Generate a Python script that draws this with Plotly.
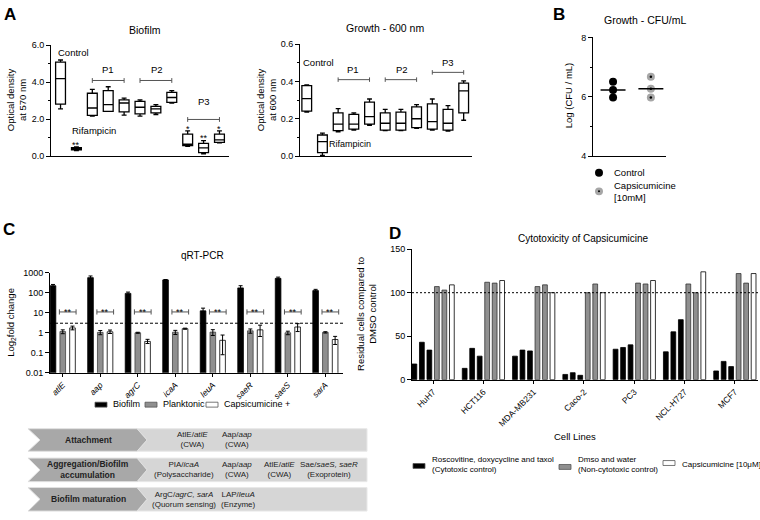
import plotly.graph_objects as go
import numpy as np

W, H = 760, 520
FONT = "Liberation Sans, Arial, sans-serif"


def px(x):
    return x / W


def py(y):
    return 1 - y / H


# ---------------- DATA ----------------
# Panel A - box plot statistics
a_groups = ["Control", "Rifampicin", "P1-a", "P1-b", "P1-c", "P2-a", "P2-b", "P2-c", "P3-a", "P3-b", "P3-c"]

bio_upper = [5.20, 0.50, 3.61, 3.75, 3.13, 3.04, 2.78, 3.54, 1.36, 0.83, 1.36]
bio_q3 = [5.08, 0.46, 3.40, 3.54, 3.04, 2.96, 2.69, 3.45, 1.19, 0.69, 1.19]
bio_median = [4.19, 0.40, 2.60, 2.78, 2.87, 2.64, 2.55, 3.17, 0.65, 0.44, 0.87]
bio_q1 = [2.81, 0.34, 2.20, 2.42, 2.39, 2.28, 2.34, 2.90, 0.57, 0.18, 0.74]
bio_lower = [2.55, 0.30, 2.16, 2.42, 2.21, 2.16, 2.25, 2.87, 0.53, 0.12, 0.71]
bio_stars = ["**", "*", "**", "*"]
bio_star_groups = ["Rifampicin", "P3-a", "P3-b", "P3-c"]

gro_upper = [0.382, 0.123, 0.254, 0.232, 0.306, 0.250, 0.250, 0.276, 0.306, 0.271, 0.403]
gro_q3 = [0.378, 0.113, 0.232, 0.224, 0.289, 0.232, 0.236, 0.264, 0.280, 0.250, 0.391]
gro_median = [0.308, 0.077, 0.171, 0.171, 0.211, 0.176, 0.176, 0.200, 0.185, 0.176, 0.350]
gro_q1 = [0.241, 0.018, 0.136, 0.144, 0.171, 0.139, 0.139, 0.153, 0.144, 0.139, 0.232]
gro_lower = [0.236, 0.004, 0.130, 0.139, 0.165, 0.136, 0.136, 0.148, 0.139, 0.134, 0.192]

# Panel B - log CFU/mL
b_groups = ["Control", "Capsicumicine"]
cfu_control = [6.50, 6.23, 5.97]
cfu_caps = [6.67, 6.27, 5.97]

# Panel C - qRT-PCR fold change
genes = ["atlE", "aap", "agrC", "icaA", "leuA", "saeR", "saeS", "sarA"]
fc_biofilm = [225, 570, 93, 440, 12.5, 175, 525, 128]
fc_biofilm_err = [35, 120, 15, 20, 4.5, 50, 80, 20]
fc_plank = [1.15, 1.05, 1.00, 1.07, 1.08, 1.25, 1.00, 1.05]
fc_plank_err = [0.25, 0.25, 0.06, 0.25, 0.35, 0.30, 0.20, 0.08]
fc_caps = [1.75, 1.12, 0.37, 1.60, 0.42, 1.40, 1.95, 0.46]
fc_caps_err_up = [0.40, 0.25, 0.10, 0.10, 0.35, 1.00, 0.90, 0.20]
fc_caps_err_dn = [0.35, 0.20, 0.08, 0.10, 0.34, 0.75, 0.80, 0.20]
fc_threshold = 3

# Panel D - cytotoxicity
cells = ["HuH7", "HCT116", "MDA-MB231", "Caco-2", "PC3", "NCL-H727", "MCF7"]
d_roscovitine = [18, 13, 27, 6, 35, 32, 10]
d_doxycycline = [43, 36, 34, 8, 37, 55, 21]
d_taxol = [34, 27, 33, 5, 40, 69, 15]
d_dmso = [107, 112, 107, 100, 111, 110, 122]
d_water = [103, 111, 109, 110, 110, 100, 111]
d_capsicumicine = [109, 114, 100, 100, 114, 124, 122]
d_reference = 100

fig = go.Figure()

AX = dict(showline=True, linecolor="black", linewidth=1, showgrid=False, zeroline=False,
          tickfont=dict(size=9, color="black"), tickcolor="black")

# ---------------- PANEL A ----------------
fig.add_trace(go.Box(x=a_groups, q1=bio_q1, median=bio_median, q3=bio_q3,
                     lowerfence=bio_lower, upperfence=bio_upper,
                     fillcolor="white", line=dict(color="black", width=1.3),
                     whiskerwidth=0.5, width=0.62, boxpoints=False,
                     xaxis="x", yaxis="y", showlegend=False))
fig.add_trace(go.Box(x=a_groups, q1=gro_q1, median=gro_median, q3=gro_q3,
                     lowerfence=gro_lower, upperfence=gro_upper,
                     fillcolor="white", line=dict(color="black", width=1.3),
                     whiskerwidth=0.5, width=0.62, boxpoints=False,
                     xaxis="x2", yaxis="y2", showlegend=False))

# ---------------- PANEL B ----------------
fig.add_trace(go.Scatter(x=[b_groups[0]] * len(cfu_control), y=cfu_control, mode="markers",
                         marker=dict(color="black", size=8), xaxis="x3", yaxis="y3", showlegend=False))
fig.add_trace(go.Scatter(x=[b_groups[1]] * len(cfu_caps), y=cfu_caps, mode="markers",
                         marker=dict(color="#a6a6a6", size=8), xaxis="x3", yaxis="y3", showlegend=False))
fig.add_trace(go.Scatter(x=[b_groups[1]] * len(cfu_caps), y=cfu_caps, mode="markers",
                         marker=dict(color="black", size=2.5), xaxis="x3", yaxis="y3", showlegend=False))

# ---------------- PANEL C ----------------
C_W = 0.15
C_PITCH = 0.26
c_series = [
    (fc_biofilm, "black", "black", dict(array=fc_biofilm_err)),
    (fc_plank, "#8f8f8f", "#444", dict(array=fc_plank_err)),
    (fc_caps, "white", "black", dict(array=fc_caps_err_up, arrayminus=fc_caps_err_dn)),
]
for k, (vals, col, lc, err) in enumerate(c_series):
    fig.add_trace(go.Bar(x=genes, y=vals, width=C_W, offset=(k - 1) * C_PITCH - C_W / 2,
                         marker=dict(color=col, line=dict(color=lc, width=0.8)),
                         error_y=dict(type="data", color="black", thickness=1, width=2, **err),
                         xaxis="x4", yaxis="y4", showlegend=False))

# ---------------- PANEL D ----------------
D_W = 0.095
D_PITCH = 0.149
d_series = [(d_roscovitine, "black", "black"), (d_doxycycline, "black", "black"), (d_taxol, "black", "black"),
            (d_dmso, "#8f8f8f", "#333"), (d_water, "#8f8f8f", "#333"), (d_capsicumicine, "white", "black")]
for k, (vals, col, lc) in enumerate(d_series):
    fig.add_trace(go.Bar(x=cells, y=vals, width=D_W, offset=(k - 2.5) * D_PITCH - D_W / 2,
                         marker=dict(color=col, line=dict(color=lc, width=0.8)),
                         xaxis="x5", yaxis="y5", showlegend=False))

shapes = []
ann = []


def text(x, y, s, size=9, xanchor="center", yanchor="middle", **kw):
    ann.append(dict(x=px(x), y=py(y), xref="paper", yref="paper", text=s, showarrow=False,
                    xanchor=xanchor, yanchor=yanchor, font=dict(size=size, color=kw.pop("color", "black"), family=FONT), **kw))


def bracket(xref, yref, x0, x1, y, cap_lo, cap_hi, color="#555"):
    shapes.append(dict(type="line", xref=xref, yref=yref, x0=x0, x1=x1, y0=y, y1=y, line=dict(color=color, width=1)))
    for xx in (x0, x1):
        shapes.append(dict(type="line", xref=xref, yref=yref, x0=xx, x1=xx, y0=cap_lo, y1=cap_hi, line=dict(color=color, width=1)))


# Panel letters
for letter, x, y in [("A", 10, 10), ("B", 559, 10), ("C", 9, 229), ("D", 395, 233)]:
    text(x, y, "<b>%s</b>" % letter, size=17)

# Panel A texts
text(145, 25, "Biofilm", size=10.5)
text(385, 23, "Growth - 600 nm", size=10.5)
text(16, 97, "Optical density<br>at 570 nm", size=9.5, textangle=-90)
text(266, 97, "Optical density<br>at 600 nm", size=9.5, textangle=-90)
text(73, 48, "Control", size=9.5)
text(94, 128, "Rifampicin", size=9.5)
text(108, 66, "P1", size=9.5)
text(157, 66, "P2", size=9.5)
text(204, 98, "P3", size=9.5)
for g, s in zip(bio_star_groups, bio_stars):
    i = a_groups.index(g)
    ann.append(dict(x=g, y=bio_upper[i] + 0.12, xref="x", yref="y", text=s, showarrow=False, yanchor="middle",
                    font=dict(size=9, color="black", family=FONT)))
text(318, 59, "Control", size=9.5)
text(350, 142, "Rifampicin", size=9)
text(353, 66, "P1", size=9.5)
text(402, 66, "P2", size=9.5)
text(448, 59, "P3", size=9.5)

bracket("x", "y", 2, 4, 4.09, 3.96, 4.22)
bracket("x", "y", 5, 7, 4.09, 3.96, 4.22)
bracket("x", "y", 8, 10, 1.98, 1.85, 2.11)
bracket("x2", "y2", 2, 4, 0.41, 0.398, 0.422)
bracket("x2", "y2", 5, 7, 0.41, 0.398, 0.422)
bracket("x2", "y2", 8, 10, 0.449, 0.437, 0.461)

# Panel B texts and medians
text(645, 15, "Growth - CFU/mL", size=10.5)
text(568, 93, "Log (CFU / mL)", size=9.5, textangle=-90)
for i, vals in enumerate([cfu_control, cfu_caps]):
    m = float(np.median(vals))
    shapes.append(dict(type="line", xref="x3", yref="y3", x0=i - 0.33, x1=i + 0.33, y0=m, y1=m,
                       line=dict(color="black", width=1.5)))
shapes.append(dict(type="circle", xref="paper", yref="paper", x0=px(595), x1=px(603), y0=py(175), y1=py(167),
                   fillcolor="black", line=dict(width=0)))
shapes.append(dict(type="circle", xref="paper", yref="paper", x0=px(595), x1=px(603), y0=py(194), y1=py(186),
                   fillcolor="#a6a6a6", line=dict(width=0)))
shapes.append(dict(type="circle", xref="paper", yref="paper", x0=px(598), x1=px(600), y0=py(191), y1=py(189),
                   fillcolor="black", line=dict(width=0)))
text(612, 171, "Control", size=9.5, xanchor="left")
text(612, 190, "Capsicumicine<br>[10mM]", size=9.5, xanchor="left", align="left")

# Panel C texts
text(202, 255, "qRT-PCR", size=10)
text(11, 324, "Log<sub>2</sub>fold change", size=9.5, textangle=-90)
for i in range(len(genes)):
    bracket("x4", "y4", i - 0.09, i + 0.355, 11, 11 / 1.35, 11 * 1.35)
    ann.append(dict(x=i + 0.13, y=1.06, xref="x4", yref="y4", text="**", showarrow=False,
                    font=dict(size=9, color="black", family=FONT)))
shapes.append(dict(type="line", xref="x4 domain", yref="y4", x0=0, x1=1, y0=fc_threshold, y1=fc_threshold,
                   line=dict(color="black", width=1, dash="3px,2px")))
# C legend
for x0, col, lab in [(95, "black", "Biofilm"), (145, "#8f8f8f", "Planktonic"), (206, "white", "Capsicumicine +")]:
    shapes.append(dict(type="rect", xref="paper", yref="paper", x0=px(x0), x1=px(x0 + 12), y0=py(410), y1=py(405),
                       fillcolor=col, line=dict(color="#555", width=0.8)))
    text(x0 + 16, 407, lab, size=9, xanchor="left")

# Table
rows = [(432, 455), (462, 486), (492, 516)]
left_labels = ["<b>Attachment</b>", "<b>Aggregation/Biofilm<br>accumulation</b>", "<b>Biofilm maturation</b>"]
cells_tbl = [
    [(192, "AtlE/<i>atlE</i><br>(CWA)"), (237, "Aap/<i>aap</i><br>(CWA)")],
    [(184, "PIA/<i>icaA</i><br>(Polysaccharide)"), (237, "Aap/<i>aap</i><br>(CWA)"), (279, "AtlE/<i>atlE</i><br>(CWA)"),
     (329, "Sae/<i>saeS, saeR</i><br>(Exoprotein)")],
    [(184, "ArgC/<i>agrC, sarA</i><br>(Quorum sensing)"), (239, "LAP/<i>leuA</i><br>(Enzyme)")],
]
for (t, b), lab, cl in zip(rows, left_labels, cells_tbl):
    m = (t + b) / 2
    path_r = "M %f,%f L %f,%f L %f,%f L %f,%f L %f,%f Z" % (
        px(137), py(t), px(367), py(t), px(367), py(b), px(137), py(b), px(147), py(m))
    shapes.append(dict(type="path", xref="paper", yref="paper", path=path_r, fillcolor="#d6d6d6",
                       line=dict(color="#e8e8e8", width=1)))
    path_l = "M %f,%f L %f,%f L %f,%f L %f,%f L %f,%f L %f,%f Z" % (
        px(28), py(t), px(137), py(t), px(147), py(m), px(137), py(b), px(28), py(b), px(40), py(m))
    shapes.append(dict(type="path", xref="paper", yref="paper", path=path_l, fillcolor="#a8a8a8",
                       line=dict(color="#e0e0e0", width=1)))
    text(88, m, lab, size=8.5, color="#222")
    for cx, s in cl:
        text(cx, m, s, size=8, color="#222")

# Panel D texts
text(583, 238, "Cytotoxicity of Capsicumicine", size=10)
text(367, 315, "Residual cells compared to<br>DMSO control", size=9.5, textangle=-90)
text(575, 440, "Cell Lines", size=9.5)
shapes.append(dict(type="line", xref="x5 domain", yref="y5", x0=0, x1=1, y0=d_reference, y1=d_reference,
                   line=dict(color="black", width=1, dash="2px,2px")))
for x0, yc, col, lab in [(413, 470, "black", "Roscovitine, doxycycline and taxol<br>(Cytotoxic control)"),
                         (559, 471, "#8f8f8f", "Dmso and water<br>(Non-cytotoxic control)"),
                         (663, 467, "white", "Capsicumicine [10μM]")]:
    shapes.append(dict(type="rect", xref="paper", yref="paper", x0=px(x0), x1=px(x0 + 12), y0=py(yc + 2.5), y1=py(yc - 2.5),
                       fillcolor=col, line=dict(color="#555", width=0.8)))
    text(x0 + 17, 468, lab, size=8, xanchor="left", align="left")

fig.update_layout(
    width=W, height=H, margin=dict(l=0, r=0, t=0, b=0),
    paper_bgcolor="white", plot_bgcolor="white",
    font=dict(family=FONT, color="black", size=9),
    barmode="overlay",
    shapes=shapes, annotations=ann,
    xaxis=dict(AX, domain=[px(51), px(229)], range=[-0.6, 10.6], showticklabels=False, ticks="", anchor="y",
               type="category"),
    yaxis=dict(AX, domain=[py(154), py(41)], range=[0, 6], dtick=2, tickformat=".1f", ticks="outside", ticklen=4,
               minor=dict(dtick=1, ticks="outside", ticklen=2, showgrid=False), anchor="x"),
    xaxis2=dict(AX, domain=[px(300), px(472)], range=[-0.43, 10.53], showticklabels=False, ticks="", anchor="y2",
                type="category"),
    yaxis2=dict(AX, domain=[py(154), py(40)], range=[0, 0.6], dtick=0.2, tickformat=".1f", ticks="outside", ticklen=4,
                minor=dict(dtick=0.1, ticks="outside", ticklen=2, showgrid=False), anchor="x2"),
    xaxis3=dict(AX, domain=[px(593), px(666)], range=[-0.53, 1.4], showticklabels=False, ticks="", anchor="y3",
                type="category"),
    yaxis3=dict(AX, domain=[py(154), py(33)], range=[4, 8], dtick=2, ticks="outside", ticklen=4,
                minor=dict(dtick=1, ticks="outside", ticklen=2, showgrid=False), anchor="x3"),
    xaxis4=dict(AX, domain=[px(50), px(343)], range=[-0.34, 7.47], anchor="y4", type="category", ticks="outside",
                ticklen=3, tickangle=-45, tickvals=genes, ticktext=["<i>%s</i>" % g for g in genes],
                tickfont=dict(size=8.5, color="black")),
    yaxis4=dict(AX, domain=[py(375), py(273)], type="log", range=[-2, 3], ticks="outside", ticklen=4,
                tickvals=[0.01, 0.1, 1, 10, 100, 1000], ticktext=["0.01", "0.1", "1", "10", "100", "1000"],
                anchor="x4"),
    xaxis5=dict(AX, domain=[px(412), px(758)], range=[-0.42, 6.46], anchor="y5", type="category", ticks="outside",
                ticklen=3, tickangle=-45, tickfont=dict(size=8.5, color="black")),
    yaxis5=dict(AX, domain=[py(382), py(249)], range=[0, 150], dtick=50, ticks="outside", ticklen=4, anchor="x5"),
)

fig.write_html("out.html", config=dict(displayModeBar=False),
               post_script="document.body.style.margin='0px';document.body.style.padding='0px';")
